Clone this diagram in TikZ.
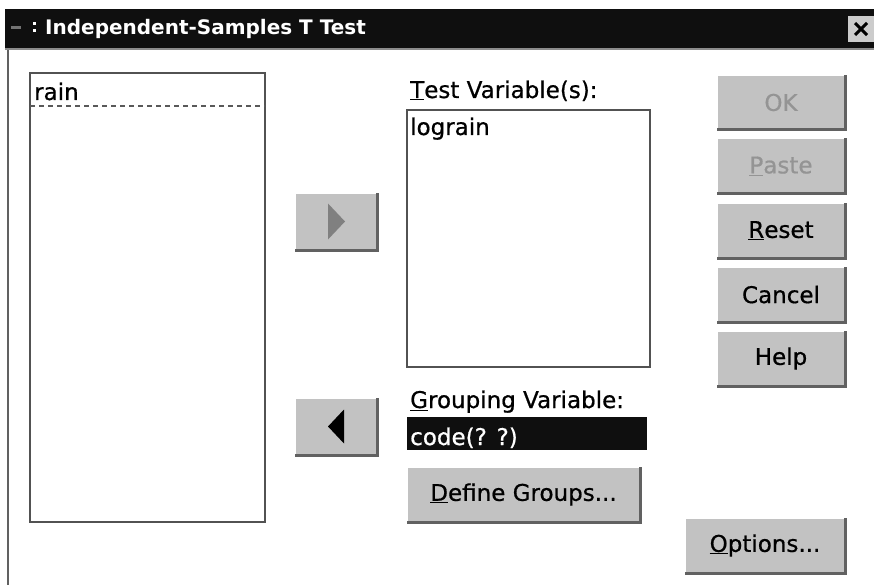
\documentclass[tikz,border=0pt]{standalone}
\usepackage{fontspec}
\setmainfont{DejaVu Sans}
\newfontfamily\uifont[FakeBold=0.7]{DejaVu Sans}
\usetikzlibrary{positioning}

\colorlet{btnface}{black!24}
\colorlet{btnshade}{black!62}
\colorlet{boxline}{black!68}
\colorlet{titlebar}{black!94}

\begin{document}
\begin{tikzpicture}[x=1pt, y=-1pt, font=\uifont\fontsize{23}{27}\selectfont]
    % common styles
    \tikzset{
        btn/.style={fill=btnface, inner sep=0pt, outer sep=0pt, minimum width=128pt, minimum height=55pt},
        hilite/.style={white, line width=2pt},
        shade/.style={btnshade, line width=3pt},
        listbox/.style={draw=boxline, line width=1.6pt, fill=white, inner sep=0pt, outer sep=0pt},
        off/.style={text=black!42},
        lbl/.style={anchor=base west, inner sep=0pt}
    }
    \useasboundingbox[fill=white] (0,0) rectangle (874,585);

    % --- window frame and title bar ---
    \fill[titlebar] (5,9) rectangle (874,48);
    \draw[black!45, line width=2pt] (5,49) -- (874,49);
    \draw[black!62, line width=2pt] (8,50) -- (8,585);
    \fill[black!55] (11,26) rectangle (21,29);
    \fill[white] (33,22) rectangle (36,25);
    \fill[white] (33,29) rectangle (36,32);
    \node[lbl, text=white, font=\fontsize{20}{24}\selectfont\bfseries] (title) at (45,35) {Independent-Samples T Test};
    \node[fill=black!20, minimum width=26pt, minimum height=26pt, inner sep=0pt] (close) at (861,29) {};
    \draw[line width=3pt] ([shift={(-6,-6)}]close.center) -- ([shift={(6,6)}]close.center)
                          ([shift={(-6,6)}]close.center) -- ([shift={(6,-6)}]close.center);

    % --- source list ---
    \node[listbox, minimum width=235pt, minimum height=449pt] (srclist) at (147.5,297.5) {};
    \node[lbl] (rain) at (34,100) {rain};
    \draw[dash pattern=on 5pt off 4pt, black!65, line width=1.2pt] ([yshift=-33pt]srclist.north west) -- ([yshift=-33pt]srclist.north east);

    % --- move buttons ---
    \node[btn, minimum width=82pt, minimum height=57pt] (toright) at (336,221.5) {};
    \node[btn, minimum width=82pt, minimum height=57pt] (toleft) at (336,426.5) {};

    % --- test variables ---
    \node[lbl] (testlbl) at (410,98) {\underline{T}est Variable(s):};
    \node[listbox, minimum width=243pt, minimum height=257pt] (testlist) at (528.5,238.5) {};
    \node[lbl] (lograin) at (410,135) {lograin};

    % --- grouping variable ---
    \node[lbl] (grouplbl) at (410,408) {\underline{G}rouping Variable:};
    \node[fill=titlebar, minimum width=240pt, minimum height=33pt, inner sep=0pt] (groupbox) at (527,433.5) {};
    \node[lbl, text=white] (code) at (410,445) {code(? ?)};
    \node[btn, minimum width=233pt] (define) at (523.5,494.5) {\underline{D}efine Groups...};

    % --- command buttons ---
    \node[btn, off] (ok) at (781,102.5) {OK};
    \node[btn, off] (paste) at (781,166) {\underline{P}aste};
    \node[btn] (reset) at (781,230.5) {\underline{R}eset};
    \node[btn] (cancel) at (781,294.5) {Cancel};
    \node[btn] (help) at (781,358.5) {Help};
    \node[btn, minimum width=160pt] (options) at (765,545.5) {\underline{O}ptions...};

    % 3d edges of every button
    \foreach \b in {ok,paste,reset,cancel,help,options,define,toright,toleft} {
        \draw[hilite] (\b.south west) |- (\b.north east);
        \draw[shade] (\b.south west) -| (\b.north east);
    }

    % arrow glyphs
    \fill[black!50] ([shift={(-8,-18)}]toright.center) -- ([shift={(9,0)}]toright.center) -- ([shift={(-8,18)}]toright.center) -- cycle;
    \fill[black] ([shift={(-8,0)}]toleft.center) -- ([shift={(8,-17)}]toleft.center) -- ([shift={(8,17)}]toleft.center) -- cycle;
\end{tikzpicture}
\end{document}
